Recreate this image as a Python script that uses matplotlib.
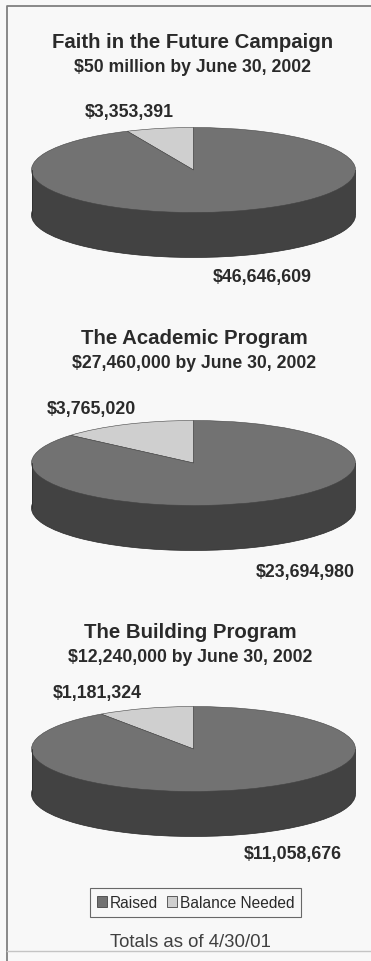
import matplotlib
matplotlib.use("Agg")
from matplotlib import pyplot as plt
from matplotlib.patches import Patch, Rectangle

titles = ["Faith in the Future Campaign", "The Academic Program", "The Building Program"]
subtitles = ["$50 million by June 30, 2002", "$27,460,000 by June 30, 2002", "$12,240,000 by June 30, 2002"]
balance = [3353391, 3765020, 1181324]
raised = [46646609, 23694980, 11058676]
balance_labels = ["$3,353,391", "$3,765,020", "$1,181,324"]
raised_labels = ["$46,646,609", "$23,694,980", "$11,058,676"]
legend_names = ["Raised", "Balance Needed"]

W, H = 371, 962
RAISED = "#727272"
SIDE = "#424242"
BALANCE = "#cfcfcf"
TEXT = "#2a2a2a"
plt.rcParams["font.family"] = ["Liberation Sans", "DejaVu Sans"]
plt.rcParams["text.parse_math"] = False

fig = plt.figure(figsize=(W / 100, H / 100), dpi=100, facecolor="#f8f8f8")

# full page axes in pixels, for text and the frame
page = fig.add_axes([0, 0, 1, 1])
page.set_xlim(0, W)
page.set_ylim(H, 0)
page.axis("off")
page.plot([7, 7, 371], [962, 7, 7], color="#808080", lw=1.3)
page.plot([7, 371], [952, 952], color="#c4c4c4", lw=1)

# pixel positions of each pie's top face centre, and of its texts
centers = [171, 464, 750]
title_x = [192.5, 194, 190]
sub_x = [192, 194, 190]
title_y = [43, 339, 633]
sub_y = [67, 364, 658]
bal_pos = [(129, 113), (91, 410), (97, 694)]
rai_pos = [(262, 278), (305, 573), (293, 855)]
rx, ry, depth = 162, 42.5, 45

for i in range(3):
    cy = centers[i]
    # pie axes squashed so that the circle becomes an ellipse
    ax = fig.add_axes([(193.5 - rx) / W, 1 - (cy + ry + depth) / H, 2 * rx / W, (2 * ry + depth) / H])
    ax.pie([1], colors=[SIDE], center=(0, -depth / ry), radius=1,
           wedgeprops={"edgecolor": "#2a2a2a", "linewidth": 0.5})
    ax.add_patch(Rectangle((-1, -depth / ry), 2, depth / ry, facecolor=SIDE, edgecolor="none"))
    ax.plot([-1, -1], [0, -depth / ry], color="#2a2a2a", lw=0.5)
    ax.plot([1, 1], [0, -depth / ry], color="#2a2a2a", lw=0.5)
    ax.pie([balance[i], raised[i]], colors=[BALANCE, RAISED], startangle=90, radius=1,
           wedgeprops={"edgecolor": "#444444", "linewidth": 0.4})
    ax.set_aspect("auto")
    ax.set_xlim(-1, 1)
    ax.set_ylim(-1 - depth / ry, 1)

    page.text(title_x[i], title_y[i], titles[i], ha="center", va="center", fontsize=14.7, fontweight="bold", color=TEXT)
    page.text(sub_x[i], sub_y[i], subtitles[i], ha="center", va="center", fontsize=12.7, fontweight="bold", color=TEXT)
    page.text(bal_pos[i][0], bal_pos[i][1], balance_labels[i], ha="center", va="center", fontsize=12.8, fontweight="bold", color=TEXT)
    page.text(rai_pos[i][0], rai_pos[i][1], raised_labels[i], ha="center", va="center", fontsize=12.8, fontweight="bold", color=TEXT)

handles = [Patch(facecolor=RAISED, edgecolor="#444444", lw=0.6),
           Patch(facecolor=BALANCE, edgecolor="#444444", lw=0.6)]
leg = page.legend(handles, legend_names, loc="center", bbox_to_anchor=(195.5 / W, 1 - 903.5 / H),
                  bbox_transform=fig.transFigure, ncol=2, fontsize=11.2, fancybox=False, facecolor="none",
                  framealpha=None, edgecolor="#444444", handlelength=0.66, handleheight=0.66, handletextpad=0.2,
                  columnspacing=0.55, borderpad=0.42, borderaxespad=0, labelcolor=TEXT)
leg.get_frame().set_linewidth(0.8)

page.text(190, 942.5, "Totals as of 4/30/01", ha="center", va="center", fontsize=13.4, color="#404040")

fig.savefig("out.png", dpi=100, facecolor=fig.get_facecolor())
